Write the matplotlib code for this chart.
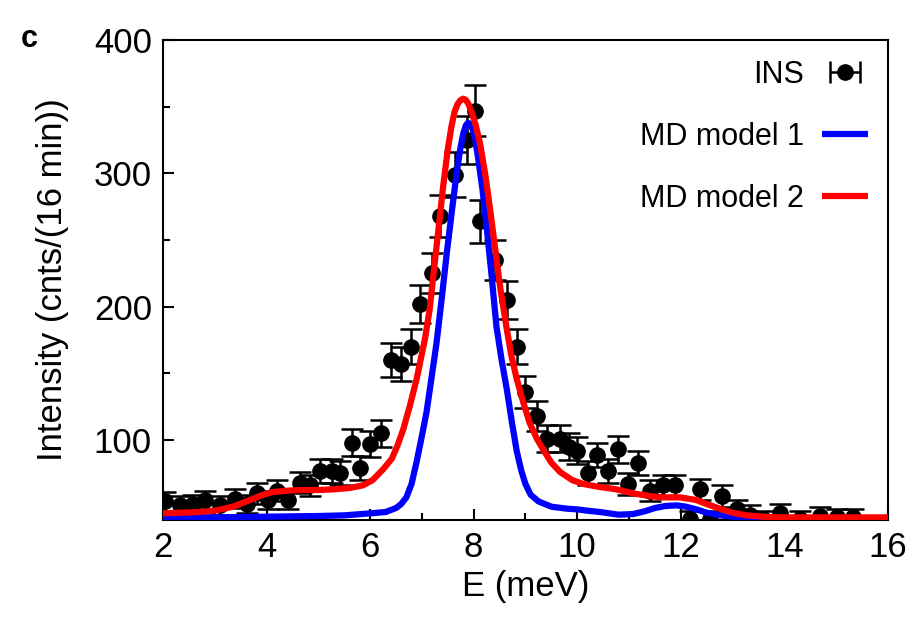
import numpy as np
import matplotlib
matplotlib.use("Agg")
import matplotlib.pyplot as plt
from matplotlib.ticker import MultipleLocator

plt.rcParams['font.family'] = ['Liberation Sans', 'DejaVu Sans']

# INS data: energy transfer (meV), counts per 16 min, error
ins_E = [2.04, 2.33, 2.58, 2.81, 3.10, 3.39, 3.62, 3.81, 4.03, 4.20,
         4.41, 4.65, 4.84, 5.03, 5.26, 5.42, 5.65, 5.80, 6.00, 6.21,
         6.40, 6.60, 6.79, 6.96, 7.19, 7.35, 7.64, 7.87, 8.02, 8.12,
         8.41, 8.64, 8.84, 8.99, 9.22, 9.41, 9.67, 9.84, 9.99, 10.21,
         10.38, 10.59, 10.79, 10.98, 11.17, 11.40, 11.65, 11.89, 12.18, 12.37,
         12.56, 12.79, 13.08, 13.33, 13.59, 13.91, 14.30, 14.69, 15.01, 15.32]
ins_I = [54, 51, 52, 55, 51, 56, 52, 60, 55, 62,
         55, 68, 66, 77, 77, 75, 98, 79, 97, 105,
         160, 157, 170, 202, 225, 268, 299, 325, 347, 264,
         235, 205, 170, 136, 118, 101, 101, 95, 92, 75,
         89, 77, 93, 67, 83, 62, 66, 66, 41, 63,
         41, 58, 48, 44, 41, 45, 41, 43, 42, 42]
ins_err = [7, 7, 7, 7, 7, 7, 7, 8, 7, 8,
           7, 8, 8, 9, 9, 9, 10, 9, 10, 10,
           13, 13, 13, 14, 15, 16, 17, 18, 19, 16,
           15, 14, 13, 12, 11, 10, 10, 10, 10, 9,
           9, 9, 10, 8, 9, 8, 8, 8, 6, 8,
           6, 8, 7, 7, 6, 7, 6, 7, 6, 6]

# MD model 1 spectrum
m1_E = [2.0, 3.0, 4.0, 5.0, 5.5, 6.0, 6.3, 6.5, 6.6, 6.7,
        6.8, 6.9, 7.0, 7.09, 7.18, 7.28, 7.38, 7.48, 7.58, 7.67,
        7.74, 7.80, 7.85, 7.89, 7.93, 7.98, 8.03, 8.08, 8.17, 8.25,
        8.35, 8.44, 8.54, 8.64, 8.74, 8.83, 8.92, 9.0, 9.1, 9.25,
        9.5, 9.8, 10.0, 10.2, 10.44, 10.8, 11.08, 11.3, 11.5, 11.7,
        11.92, 12.1, 12.3, 12.5, 12.76, 13.0, 13.4, 14.0, 15.0, 16.0]
m1_I = [42, 42, 42.5, 43, 43.5, 45, 46, 49, 52, 57,
        67, 84, 103, 121, 145, 172, 205, 240, 272, 300,
        318, 330, 336, 338, 337, 333, 325, 313, 288, 260,
        222, 185, 160, 138, 113, 92, 77, 67, 59, 54,
        50, 48.5, 48, 47, 46, 44, 44.5, 46.5, 49, 50.5,
        51, 50, 48, 45.5, 43.5, 42.5, 41.5, 41, 41, 41]

# MD model 2 spectrum
m2_E = [2.0, 2.7, 3.0, 3.35, 3.68, 3.9, 4.12, 4.4, 4.65, 5.0,
        5.28, 5.6, 5.86, 6.05, 6.25, 6.42, 6.53, 6.64, 6.77, 6.9,
        7.06, 7.15, 7.22, 7.32, 7.41, 7.5, 7.57, 7.63, 7.69, 7.75,
        7.8, 7.85, 7.9, 7.96, 8.04, 8.12, 8.22, 8.31, 8.41, 8.51,
        8.64, 8.73, 8.83, 8.96, 9.08, 9.22, 9.34, 9.5, 9.67, 9.9,
        10.12, 10.4, 10.76, 11.08, 11.4, 11.65, 11.98, 12.3, 12.5, 12.76,
        13.0, 13.27, 13.6, 13.85, 14.5, 15.5, 16.0]
m2_I = [45, 46, 47, 50, 55, 58.5, 61, 62, 62.5, 62.5,
        63, 64, 66, 70, 78, 86, 96, 108, 126, 146,
        176, 198, 223, 258, 290, 318, 335, 346, 352, 355,
        356, 355, 352, 346, 336, 323, 300, 275, 245, 215,
        183, 163, 146, 128, 113, 101, 93, 83, 76, 70,
        67, 65, 63, 60, 58, 57, 57, 55, 52, 48.4,
        45.5, 43.5, 42.5, 42, 42, 42, 42]

fig = plt.figure(figsize=(9.22, 6.21), dpi=100)
ax = fig.add_axes([0.1768, 0.1626, 0.9630 - 0.1768, 0.9356 - 0.1626])

ebar_style = dict(fmt='o', color='black', markersize=11, elinewidth=1.8,
                  capsize=8, capthick=1.8)
ax.errorbar(ins_E, ins_I, yerr=ins_err, zorder=2, **ebar_style)
# legend entry for the data uses a horizontal error-bar glyph
ins_handle = ax.errorbar([np.nan], [np.nan], xerr=[1.0], **ebar_style)

l1, = ax.plot(m1_E, m1_I, color='#0000ff', lw=4.5, zorder=3, solid_capstyle='butt')
l2, = ax.plot(m2_E, m2_I, color='#ff0000', lw=4.5, zorder=4, solid_capstyle='butt')

ax.set_xlim(2, 16)
ax.set_ylim(40, 400)
ax.xaxis.set_major_locator(MultipleLocator(2))
ax.xaxis.set_minor_locator(MultipleLocator(1))
ax.yaxis.set_major_locator(MultipleLocator(100))
ax.yaxis.set_minor_locator(MultipleLocator(50))
ax.tick_params(which='both', direction='in', labelsize=25, width=1.5, pad=8)
ax.tick_params(which='major', length=8)
ax.tick_params(which='minor', length=5)
for s in ax.spines.values():
    s.set_linewidth(1.5)

ax.set_xlabel('E (meV)', fontsize=25, labelpad=4)
ax.set_ylabel('Intensity (cnts/(16 min))', fontsize=25, labelpad=18)

leg = ax.legend([ins_handle, l1, l2], ['INS', 'MD model 1', 'MD model 2'],
                loc='upper right', frameon=False, markerfirst=False,
                fontsize=22, handlelength=1.5, labelspacing=1.05,
                borderaxespad=0.25, handletextpad=0.6)

fig.text(0.022, 0.937, 'c', fontsize=22, fontweight='bold', ha='left', va='center')

fig.savefig('out.png', dpi=100)
